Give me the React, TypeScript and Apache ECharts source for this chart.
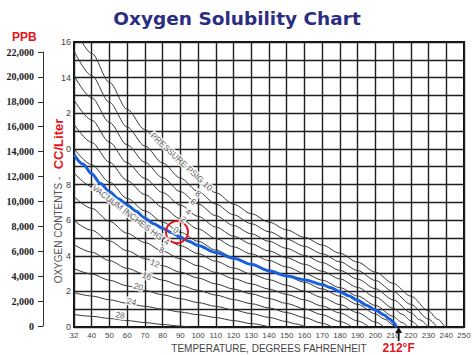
import React, { useEffect, useRef } from 'react';
import * as echarts from 'echarts';

const xTicks = ['32','40','50','60','70','80','90','100','110','120','130','140','150','160','170','180','190','200','210','220','230','240','250'];
const yTicks = ['0','2','4','6','8','0','2','14','16'];
const ppbTicks = ['0','2,000','4,000','6,000','8,000','10,000','12,000','14,000','16,000','18,000','20,000','22,000'];

// Pressure curves (temperature axis value, cc/L)
const psig10 = [[30,16.86],[40,15.36],[50,13.73],[60,12.22],[70,11.07],[80,10.04],[90,9.12],[100,8.31],[110,7.54],[120,6.90],[130,6.36],[140,5.89],[150,5.45],[160,5.03],[170,4.60],[180,4.14],[190,3.64],[200,3.08],[210,2.45],[220,1.73],[230,0.90],[235,0.44],[239.4,0]];
const psig8 = [[30,15.49],[40,14.11],[50,12.61],[60,11.22],[70,10.16],[80,9.21],[90,8.36],[100,7.61],[110,6.90],[120,6.30],[130,5.80],[140,5.35],[150,4.93],[160,4.53],[170,4.11],[180,3.66],[190,3.17],[200,2.61],[210,1.99],[220,1.27],[230,0.44],[234.7,0]];
const psig6 = [[30,14.12],[40,12.86],[50,11.49],[60,10.22],[70,9.25],[80,8.38],[90,7.60],[100,6.91],[110,6.25],[120,5.70],[130,5.23],[140,4.81],[150,4.41],[160,4.02],[170,3.62],[180,3.18],[190,2.69],[200,2.15],[210,1.53],[220,0.81],[225,0.41],[229.8,0]];
const psig4 = [[30,12.75],[40,11.61],[50,10.37],[60,9.22],[70,8.34],[80,7.55],[90,6.84],[100,6.21],[110,5.61],[120,5.10],[130,4.66],[140,4.27],[150,3.89],[160,3.52],[170,3.13],[180,2.70],[190,2.22],[200,1.68],[210,1.06],[215,0.72],[220,0.35],[224.4,0]];
const psig2 = [[30,11.38],[40,10.36],[50,9.25],[60,8.22],[70,7.43],[80,6.72],[90,6.08],[100,5.51],[110,4.97],[120,4.50],[130,4.10],[140,3.73],[150,3.37],[160,3.01],[170,2.63],[180,2.21],[190,1.74],[200,1.21],[210,0.60],[215,0.25],[218.5,0]];
const psig0 = [[30,10.01],[40,9.11],[50,8.13],[60,7.22],[70,6.52],[80,5.89],[90,5.32],[100,4.81],[110,4.32],[120,3.90],[130,3.53],[140,3.19],[150,2.85],[160,2.51],[170,2.14],[180,1.73],[190,1.27],[200,0.74],[205,0.45],[210,0.13],[212,0]];
const vac4 = [[30,8.66],[40,7.88],[50,7.03],[60,6.24],[70,5.63],[80,5.07],[90,4.57],[100,4.12],[110,3.69],[120,3.31],[130,2.97],[140,2.66],[150,2.34],[160,2.01],[170,1.66],[180,1.26],[190,0.80],[200,0.28],[204.9,0]];
const vac8 = [[30,7.32],[40,6.66],[50,5.93],[60,5.26],[70,4.74],[80,4.26],[90,3.83],[100,3.44],[110,3.06],[120,2.72],[130,2.42],[140,2.13],[150,1.83],[160,1.52],[170,1.18],[180,0.79],[190,0.34],[196.5,0]];
const vac12 = [[30,5.97],[40,5.43],[50,4.83],[60,4.28],[70,3.84],[80,3.44],[90,3.08],[100,2.75],[110,2.42],[120,2.13],[130,1.86],[140,1.60],[150,1.32],[160,1.02],[170,0.69],[180,0.31],[187,0]];
const vac16 = [[30,4.62],[40,4.20],[50,3.73],[60,3.29],[70,2.95],[80,2.63],[90,2.33],[100,2.06],[110,1.79],[120,1.54],[130,1.31],[140,1.07],[150,0.81],[160,0.53],[170,0.21],[175.7,0]];
const vac20 = [[30,3.28],[40,2.97],[50,2.63],[60,2.31],[70,2.05],[80,1.81],[90,1.59],[100,1.37],[110,1.16],[120,0.95],[130,0.75],[140,0.54],[150,0.30],[155,0.17],[161,0]];
const vac24 = [[30,1.93],[40,1.74],[50,1.53],[60,1.33],[70,1.16],[80,1.00],[90,0.84],[100,0.69],[110,0.53],[120,0.36],[130,0.19],[140.3,0]];
const vac28 = [[30,0.70],[40,0.60],[50,0.48],[60,0.36],[70,0.25],[80,0.14],[90,0.05],[95,0]];

// Highlighted atmospheric (0 psig) curve
const blueCurve = [[30,9.68],[35,9.15],[40,8.6],[45,8.05],[50,7.6],[55,7.2],[60,6.85],[65,6.5],[70,6.1],[75,5.8],[80,5.55],[85,5.3],[90,5.04],[95,4.8],[100,4.58],[110,4.18],[120,3.86],[130,3.52],[140,3.16],[150,2.86],[160,2.65],[170,2.38],[175,2.2],[180,1.98],[185,1.76],[190,1.5],[195,1.22],[200,0.95],[205,0.68],[208,0.45],[210,0.28],[212,0]];

// Curve labels (anchor in data units)
const labelTexts = ['PRESSURE PSIG 10','8','6','4','2','0','VACUUM INCHES HG','4','8','12','16','20','24','28'];
const labelT = [90.7,100.1,97.3,94.5,91.7,87.5,60.2,82.3,79.5,75.7,71.0,66.3,62.5,56.0];
const labelV = [9.28,7.5,7.04,6.47,6.05,5.45,6.43,4.79,4.32,3.58,2.86,2.26,1.42,0.67];
const labelAngle = [-43,-37,-35,-33,-32,-30,-37,-28,-26,-24,-20,-18,-14,-10];

const circleAt = [88.1, 5.33];
const boilingPoint = 212;

const curves = [psig10, psig8, psig6, psig4, psig2, psig0, vac4, vac8, vac12, vac16, vac20, vac24, vac28];

export default function App() {
  const ref = useRef<HTMLDivElement>(null);
  useEffect(() => {
    const chart = echarts.init(ref.current as HTMLDivElement, null, { renderer: 'svg' });
    const gridLine = { color: '#1e1e1e', width: 1.4 };
    const option: any = {
      animation: false,
      backgroundColor: '#fff',
      textStyle: { fontFamily: 'Liberation Sans' },
      title: {
        text: 'Oxygen Solubility Chart',
        left: 'center',
        top: 4,
        textStyle: { fontFamily: 'DejaVu Sans', fontWeight: 'bold', fontSize: 18.5, color: '#2b2d83' },
      },
      grid: [
        { left: 74, top: 42, right: 10, bottom: 28, show: true, borderColor: '#111', borderWidth: 2, containLabel: false, outerBoundsMode: 'none' },
        { left: 43, top: 52, width: 1, bottom: 29, show: false, containLabel: false, outerBoundsMode: 'none' },
      ],
      xAxis: [
        {
          gridIndex: 0, type: 'value', min: 30, max: 250, interval: 10,
          axisLine: { show: false }, axisTick: { show: false },
          axisLabel: { fontSize: 8, color: '#444', margin: 4, showMinLabel: true, showMaxLabel: true,
            formatter: (v: number) => xTicks[Math.round((v - 30) / 10)] ?? '' },
          splitLine: { show: true, lineStyle: gridLine },
          name: 'TEMPERATURE, DEGREES FAHRENHEIT', nameLocation: 'middle', nameGap: 15,
          nameTextStyle: { fontSize: 10, color: '#444' },
        },
        { gridIndex: 1, type: 'value', show: false, min: 0, max: 1 },
      ],
      yAxis: [
        {
          gridIndex: 0, type: 'value', min: 0, max: 16, interval: 1,
          axisLine: { show: false }, axisTick: { show: false },
          axisLabel: { fontSize: 9, color: '#444', margin: 3, showMinLabel: true, showMaxLabel: true,
            formatter: (v: number) => (v % 2 === 0 ? yTicks[v / 2] : '') },
          splitLine: { show: true, lineStyle: gridLine },
        },
        {
          gridIndex: 1, type: 'value', min: 0, max: 22000, interval: 2000, position: 'left',
          axisLine: { show: true, lineStyle: { color: '#333', width: 1 } },
          axisTick: { show: true, length: 5, lineStyle: { color: '#333' } },
          axisLabel: { fontFamily: 'Liberation Serif', fontWeight: 'bold', fontSize: 10, color: '#222', margin: 9,
            showMinLabel: true, showMaxLabel: true,
            formatter: (v: number) => ppbTicks[Math.round(v / 2000)] ?? '' },
          splitLine: { show: false },
        },
      ],
      graphic: [
        { type: 'text', left: 12, top: 31, style: { text: 'PPB', font: 'bold 12px "Liberation Sans"', fill: '#e3151c' } },
        { type: 'text', x: 58, y: 144, rotation: Math.PI / 2,
          style: { text: 'CC/Liter', font: 'bold 13px "Liberation Sans"', fill: '#e3151c', align: 'center', verticalAlign: 'middle', textAlign: 'center', textVerticalAlign: 'middle' } },
        { type: 'text', x: 58, y: 230, rotation: Math.PI / 2,
          style: { text: 'OXYGEN CONTENTS -', font: '10px "Liberation Sans"', fill: '#555', align: 'center', verticalAlign: 'middle', textAlign: 'center', textVerticalAlign: 'middle' } },
      ],
      series: [
        ...curves.map((c) => ({
          type: 'line', xAxisIndex: 0, yAxisIndex: 0, data: c, showSymbol: false, symbol: 'none',
          smooth: 0.3, smoothMonotone: 'x', clip: true, silent: true, z: 3,
          lineStyle: { color: '#383838', width: 1 },
        })),
        {
          type: 'line', xAxisIndex: 0, yAxisIndex: 0, data: blueCurve, showSymbol: false, symbol: 'none',
          smooth: 0.3, smoothMonotone: 'x', clip: true, silent: true, z: 4,
          lineStyle: { color: '#1a5fdc', width: 3 },
          markPoint: {
            silent: true,
            data: [
              { coord: circleAt, symbol: 'circle', symbolSize: 22,
                itemStyle: { color: 'rgba(0,0,0,0)', borderColor: '#e3151c', borderWidth: 2 }, label: { show: false } },
              { coord: [boilingPoint, 0], symbol: 'path://M4,0L8,6L5,6L5,14L3,14L3,6L0,6Z', symbolSize: [7, 14],
                symbolKeepAspect: false, symbolOffset: [2, 7], itemStyle: { color: '#111' },
                label: { show: true, position: 'bottom', distance: 1, formatter: '212°F', color: '#e3151c',
                  fontWeight: 'bold', fontSize: 12, fontFamily: 'Liberation Sans' } },
            ],
          },
        },
        {
          type: 'scatter', xAxisIndex: 0, yAxisIndex: 0, symbolSize: 1, silent: true, z: 5,
          itemStyle: { color: 'rgba(0,0,0,0)' },
          label: { show: true, position: 'inside', fontSize: 8.5, color: '#333', fontFamily: 'Liberation Sans',
            backgroundColor: '#fff', padding: [0, 1] },
          data: labelTexts.map((t, i) => ({
            value: [labelT[i], labelV[i]],
            label: { show: true, formatter: t, rotate: labelAngle[i] },
          })),
        },
      ],
    };
    chart.setOption(option);
    return () => chart.dispose();
  }, []);
  return <div ref={ref} style={{ position: 'fixed', left: 0, top: 0, width: 474, height: 355, background: '#fff' }} />;
}
